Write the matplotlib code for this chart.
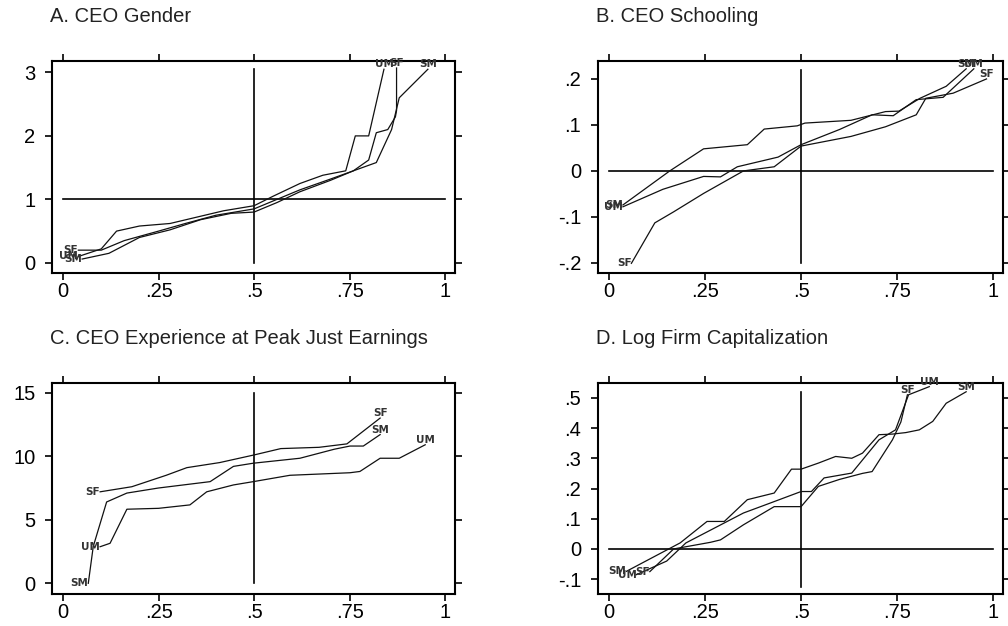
import matplotlib
matplotlib.use("Agg")
import matplotlib.pyplot as plt

plt.rcParams['font.family'] = ['Liberation Sans', 'DejaVu Sans']

# ---------------- data ----------------
titles = ["A. CEO Gender", "B. CEO Schooling",
          "C. CEO Experience at Peak Just Earnings", "D. Log Firm Capitalization"]
x_ticks = [0, 0.25, 0.5, 0.75, 1]
x_ticklabels = ["0", ".25", ".5", ".75", "1"]

# Panel A
a_yticks = [0, 1, 2, 3]
a_yticklabels = ["0", "1", "2", "3"]
a_um_x = [0.04, 0.10, 0.14, 0.20, 0.28, 0.35, 0.42, 0.50, 0.55, 0.62, 0.68, 0.74, 0.765, 0.80, 0.84]
a_um_y = [0.10, 0.22, 0.50, 0.58, 0.62, 0.72, 0.82, 0.90, 1.05, 1.25, 1.38, 1.45, 2.00, 2.00, 3.05]
a_sf_x = [0.04, 0.10, 0.16, 0.25, 0.32, 0.40, 0.50, 0.56, 0.62, 0.70, 0.76, 0.80, 0.82, 0.85, 0.87, 0.873, 0.873]
a_sf_y = [0.20, 0.20, 0.35, 0.50, 0.62, 0.75, 0.85, 1.00, 1.15, 1.32, 1.45, 1.62, 2.05, 2.10, 2.30, 2.40, 3.07]
a_sm_x = [0.05, 0.12, 0.20, 0.28, 0.36, 0.44, 0.50, 0.56, 0.62, 0.70, 0.76, 0.82, 0.86, 0.88, 0.90, 0.955]
a_sm_y = [0.06, 0.15, 0.40, 0.52, 0.68, 0.78, 0.80, 0.95, 1.12, 1.30, 1.45, 1.58, 2.10, 2.60, 2.72, 3.05]

# Panel B
b_yticks = [-0.2, -0.1, 0, 0.1, 0.2]
b_yticklabels = ["-.2", "-.1", "0", ".1", ".2"]
b_sm_x = [0.036, 0.158, 0.246, 0.36, 0.404, 0.49, 0.51, 0.63, 0.72, 0.755, 0.81, 0.878, 0.93]
b_sm_y = [-0.074, 0.0, 0.048, 0.057, 0.091, 0.098, 0.104, 0.11, 0.129, 0.13, 0.158, 0.184, 0.222]
b_um_x = [0.036, 0.14, 0.246, 0.29, 0.334, 0.44, 0.50, 0.60, 0.685, 0.74, 0.80, 0.87, 0.95]
b_um_y = [-0.078, -0.04, -0.012, -0.013, 0.009, 0.03, 0.057, 0.09, 0.122, 0.12, 0.155, 0.16, 0.222]
b_sf_x = [0.058, 0.119, 0.168, 0.246, 0.35, 0.43, 0.50, 0.63, 0.72, 0.80, 0.825, 0.896, 0.983]
b_sf_y = [-0.201, -0.113, -0.089, -0.049, 0.0, 0.009, 0.054, 0.075, 0.096, 0.122, 0.158, 0.169, 0.20]

# Panel C
c_yticks = [0, 5, 10, 15]
c_yticklabels = ["0", "5", "10", "15"]
c_sf_x = [0.097, 0.18, 0.27, 0.324, 0.41, 0.50, 0.57, 0.67, 0.743, 0.83]
c_sf_y = [7.2, 7.6, 8.5, 9.1, 9.5, 10.1, 10.6, 10.7, 10.97, 13.0]
c_sm_x = [0.066, 0.079, 0.114, 0.167, 0.25, 0.385, 0.446, 0.498, 0.62, 0.71, 0.751, 0.786, 0.83]
c_sm_y = [0.0, 2.9, 6.4, 7.1, 7.5, 8.0, 9.2, 9.45, 9.84, 10.55, 10.8, 10.8, 11.7]
c_um_x = [0.097, 0.123, 0.167, 0.25, 0.332, 0.376, 0.446, 0.498, 0.594, 0.751, 0.777, 0.83, 0.88, 0.948]
c_um_y = [2.88, 3.15, 5.83, 5.9, 6.17, 7.2, 7.74, 8.0, 8.5, 8.7, 8.8, 9.84, 9.84, 10.9]

# Panel D
d_yticks = [-0.1, 0, 0.1, 0.2, 0.3, 0.4, 0.5]
d_yticklabels = ["-.1", "0", ".1", ".2", ".3", ".4", ".5"]
d_sm_x = [0.045, 0.185, 0.255, 0.30, 0.36, 0.43, 0.475, 0.50, 0.545, 0.59, 0.632, 0.66, 0.703, 0.738, 0.773, 0.808, 0.843, 0.878, 0.93]
d_sm_y = [-0.074, 0.02, 0.091, 0.091, 0.163, 0.185, 0.264, 0.264, 0.284, 0.306, 0.30, 0.317, 0.378, 0.38, 0.385, 0.394, 0.422, 0.482, 0.52]
d_um_x = [0.071, 0.15, 0.20, 0.35, 0.42, 0.50, 0.527, 0.56, 0.632, 0.703, 0.746, 0.78, 0.834]
d_um_y = [-0.085, -0.04, 0.02, 0.119, 0.152, 0.19, 0.19, 0.235, 0.251, 0.361, 0.394, 0.51, 0.537]
d_sf_x = [0.106, 0.168, 0.264, 0.29, 0.35, 0.43, 0.50, 0.545, 0.60, 0.66, 0.685, 0.738, 0.76, 0.777]
d_sf_y = [-0.075, 0.0, 0.022, 0.03, 0.08, 0.14, 0.14, 0.207, 0.23, 0.25, 0.256, 0.361, 0.42, 0.51]

panels = [
    dict(title=titles[0], yticks=a_yticks, ylabels=a_yticklabels, ylim=(-0.16, 3.18),
         hline=1, vline=(0, 3.05),
         series=[("UM", a_um_x, a_um_y), ("SF", a_sf_x, a_sf_y), ("SM", a_sm_x, a_sm_y)]),
    dict(title=titles[1], yticks=b_yticks, ylabels=b_yticklabels, ylim=(-0.222, 0.239),
         hline=0, vline=(-0.2, 0.22),
         series=[("SM", b_sm_x, b_sm_y), ("UM", b_um_x, b_um_y), ("SF", b_sf_x, b_sf_y)]),
    dict(title=titles[2], yticks=c_yticks, ylabels=c_yticklabels, ylim=(-0.84, 15.76),
         hline=None, vline=(0, 15),
         series=[("SF", c_sf_x, c_sf_y), ("SM", c_sm_x, c_sm_y), ("UM", c_um_x, c_um_y)]),
    dict(title=titles[3], yticks=d_yticks, ylabels=d_yticklabels, ylim=(-0.149, 0.549),
         hline=0, vline=(-0.125, 0.52),
         series=[("SM", d_sm_x, d_sm_y), ("UM", d_um_x, d_um_y), ("SF", d_sf_x, d_sf_y)]),
]

fig = plt.figure(figsize=(10.08, 6.26), dpi=100)
W, H = 1008, 626
boxes = [(52, 61, 455, 273), (598, 61, 1003, 273), (52, 383, 455, 594), (598, 383, 1003, 594)]
title_pos = [(50, 17), (596, 17), (50, 339), (596, 339)]

for p, (l, t, r, b), (tx, ty) in zip(panels, boxes, title_pos):
    ax = fig.add_axes([l / W, 1 - b / H, (r - l) / W, (b - t) / H])
    ax.set_xlim(-0.029, 1.026)
    ax.set_ylim(*p["ylim"])
    ax.set_xticks(x_ticks)
    ax.set_xticklabels(x_ticklabels)
    ax.set_yticks(p["yticks"])
    ax.set_yticklabels(p["ylabels"])
    ax.tick_params(direction='out', length=5, width=1.2, labelsize=14.5,
                   top=True, right=True, labeltop=False, labelright=False,
                   colors='black')
    ax.tick_params(axis='x', pad=1.5)
    ax.tick_params(axis='y', pad=7)
    for s in ax.spines.values():
        s.set_linewidth(1.5)
    if p["hline"] is not None:
        ax.plot([0, 1], [p["hline"], p["hline"]], color='black', lw=1.2)
    ax.plot([0.5, 0.5], p["vline"], color='black', lw=1.2)
    for name, xs, ys in p["series"]:
        ax.plot(xs, ys, color='#111111', lw=0.9)
        ax.text(xs[0], ys[0], name, fontsize=7.5, fontweight='bold', color='#333333',
                ha='right', va='center', family='DejaVu Sans')
        ax.text(xs[-1], ys[-1], name, fontsize=7.5, fontweight='bold', color='#333333',
                ha='center', va='bottom', family='DejaVu Sans')
    fig.text(tx / W, 1 - ty / H, p["title"], fontsize=14.5, ha='left', va='center', color='#222222')

fig.savefig("out.png", dpi=100)
